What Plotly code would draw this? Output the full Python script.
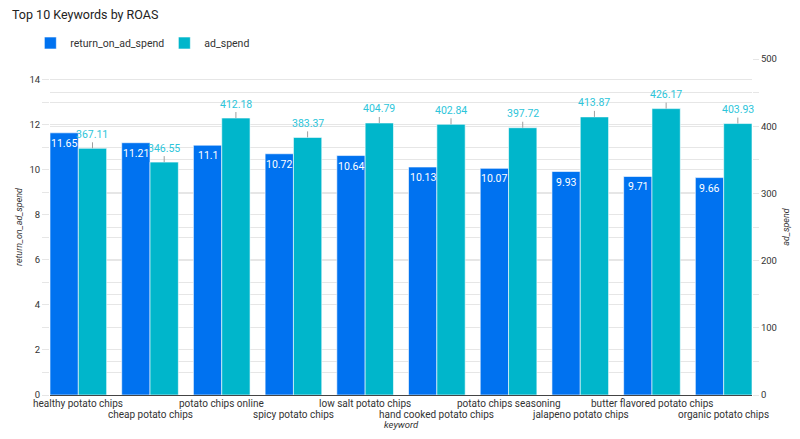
import plotly.graph_objects as go

keywords = ["healthy potato chips", "cheap potato chips", "potato chips online",
            "spicy potato chips", "low salt potato chips", "hand cooked potato chips",
            "potato chips seasoning", "jalapeno potato chips", "butter flavored potato chips",
            "organic potato chips"]
roas = [11.65, 11.21, 11.1, 10.72, 10.64, 10.13, 10.07, 9.93, 9.71, 9.66]
ad_spend = [367.11, 346.55, 412.18, 383.37, 404.79, 402.84, 397.72, 413.87, 426.17, 403.93]

BLUE = "#0072F0"
TEAL = "#00B6CB"
FONT = "Roboto"
TXT = "#333"

fig = go.Figure()
fig.add_trace(go.Bar(
    x=keywords, y=roas, name="return_on_ad_spend", marker=dict(color=BLUE, line=dict(color="white", width=0.6)),
    offsetgroup="a", yaxis="y",
))
fig.add_trace(go.Bar(
    x=keywords, y=ad_spend, name="ad_spend", marker=dict(color=TEAL, line=dict(color="white", width=0.6)),
    offsetgroup="b", yaxis="y2",
))

bargap = 0.21
half = (1 - bargap) / 4

# value labels
for i, v in enumerate(roas):
    fig.add_annotation(
        x=i - half, y=v, xref="x", yref="y", text=f"{v:g}", showarrow=False,
        xanchor="center", yanchor="top", yshift=-2, font=dict(color="white", size=10.5, family=FONT),
    )
for i, v in enumerate(ad_spend):
    fig.add_annotation(
        x=i + half, y=v, xref="x", yref="y2", text=f"{v:g}",
        showarrow=True, arrowhead=0, arrowwidth=1, arrowcolor="#9e9e9e",
        ax=0, ay=-14,
        font=dict(color="#2CC5DA", size=10.5, family=FONT),
    )

# staggered category labels
for i, k in enumerate(keywords):
    fig.add_annotation(
        x=i, y=0, xref="x", yref="paper", text=k, showarrow=False,
        xanchor="center", yanchor="top", yshift=-1 if i % 2 == 0 else -12,
        font=dict(color=TXT, size=10, family=FONT),
    )
fig.add_annotation(
    x=0.5, y=0, xref="paper", yref="paper", text="<i>keyword</i>", showarrow=False,
    xanchor="center", yanchor="middle", yshift=-29, font=dict(color=TXT, size=9.5, family=FONT),
)

grid = "#e6e6e6"
fig.update_layout(
    width=792, height=431,
    margin=dict(l=42, r=48, t=51, b=44, autoexpand=False),
    paper_bgcolor="white", plot_bgcolor="white",
    font=dict(family=FONT, size=9.5, color=TXT),
    title=dict(text="Top 10 Keywords by ROAS", x=4/792, xanchor="left", y=1-7/431, yanchor="middle",
               yref="container", xref="container", pad=dict(t=0, b=0, l=0, r=0),
               font=dict(size=12.5, color="#222", family=FONT)),
    barmode="group", bargap=bargap, bargroupgap=0,
    showlegend=True,
    legend=dict(orientation="h", x=-0.028, xanchor="left", y=(387-35)/336, yanchor="middle",
                font=dict(size=10.5, color=TXT, family=FONT), traceorder="normal",
                entrywidth=89, entrywidthmode="pixels"),
    xaxis=dict(type="category", range=[-0.395, 9.395], showticklabels=False, automargin=False,
               showline=True, linecolor="#444", linewidth=1, ticks=""),
    yaxis=dict(range=[0, 14.93], tickmode="linear", tick0=0, dtick=2, automargin=False,
               showgrid=True, gridcolor=grid, zeroline=False,
               ticks="outside", ticklen=7, tickcolor=grid,
               minor=dict(dtick=1, showgrid=True, gridcolor=grid, ticks="outside", ticklen=7, tickcolor=grid),
               tickfont=dict(size=9.5, color=TXT),
               title=dict(text="<i>return_on_ad_spend</i>", font=dict(size=9, color=TXT), standoff=5)),
    yaxis2=dict(range=[0, 500], overlaying="y", side="right", tickmode="linear", tick0=0, dtick=100,
                automargin=False,
                showgrid=True, gridcolor=grid, zeroline=False,
                ticks="outside", ticklen=6, tickcolor=grid,
                minor=dict(dtick=50, showgrid=True, gridcolor=grid, ticks="outside", ticklen=6, tickcolor=grid),
                tickfont=dict(size=9.5, color=TXT),
                title=dict(text="<i>ad_spend</i>", font=dict(size=9, color=TXT), standoff=6)),
)

fig.write_html("out.html")
